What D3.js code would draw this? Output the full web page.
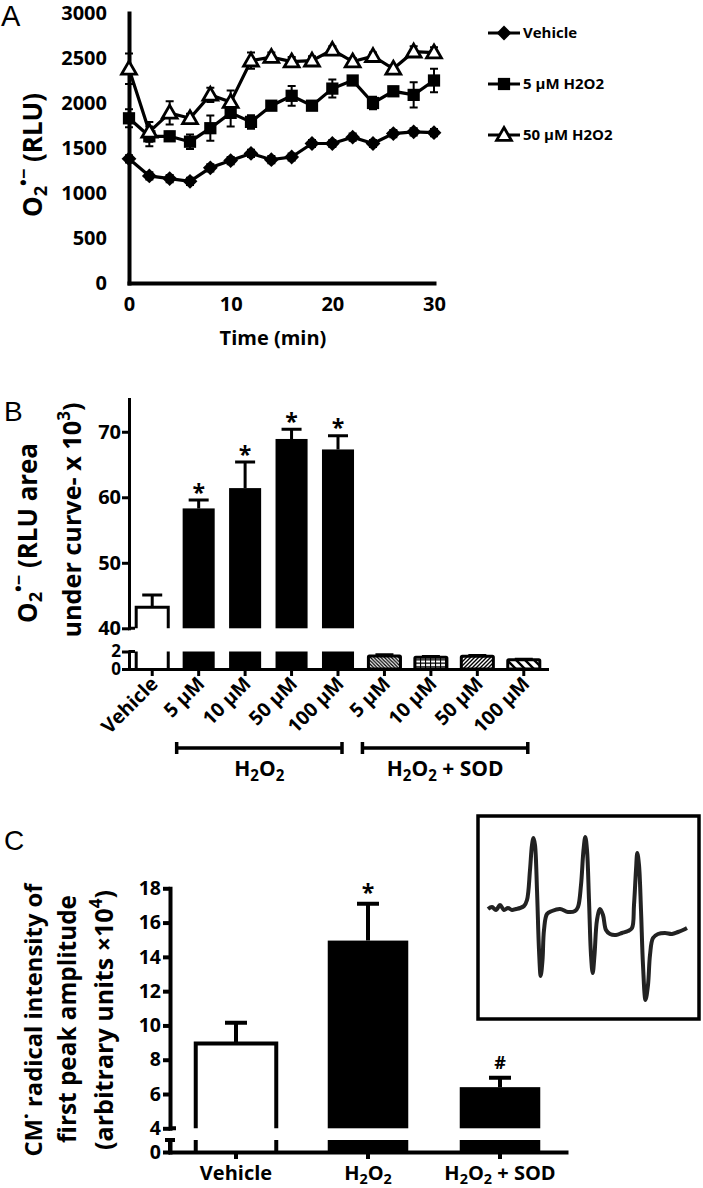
<!DOCTYPE html>
<html><head><meta charset="utf-8">
<script src="https://cdn.jsdelivr.net/npm/d3@7"></script>
<style>
html,body{margin:0;padding:0;background:#fff;}
svg{display:block;}
text{font-family:"Open Sans",sans-serif;font-weight:700;fill:#000;}
</style></head><body>
<svg id="c" width="703" height="1188"></svg>
<script>
// ---------- Panel A data ----------
const timeMin = [0,2,4,6,8,10,12,14,16,18,20,22,24,26,28,30];
const vehicleRLU = [1380,1190,1160,1130,1280,1360,1440,1370,1400,1550,1550,1620,1550,1660,1680,1670];
const vehicleSEM = [40,40,40,40,40,40,40,40,40,40,40,40,40,40,40,40];
const h2o2_5RLU = [1830,1630,1630,1570,1720,1890,1790,1970,2080,1970,2160,2250,2000,2130,2090,2250];
const h2o2_5SEM = [100,110,50,80,140,150,75,40,110,40,100,40,70,50,140,130];
const h2o2_50RLU = [2380,1680,1890,1830,2090,2010,2470,2510,2460,2470,2590,2460,2520,2380,2570,2560];
const h2o2_50SEM = [170,110,130,50,80,130,90,50,50,50,40,40,40,40,60,60];
const seriesA = ["Vehicle","5 µM H2O2","50 µM H2O2"];
const aYTicks = [0,500,1000,1500,2000,2500,3000];
const aXTicks = [0,10,20,30];

// ---------- Panel B data ----------
const bCategories = ["Vehicle","5 µM","10 µM","50 µM","100 µM","5 µM","10 µM","50 µM","100 µM"];
const bGroup = ["vehicle","h2o2","h2o2","h2o2","h2o2","sod","sod","sod","sod"];
const bAUC = [43.2,58.3,61.4,68.9,67.3,1.5,1.35,1.45,1.05];
const bSEM = [1.9,1.3,4.0,1.5,2.1,0.15,0.12,0.12,0.1];
const bSig = ["","*","*","*","*","","","",""];
const bUpperTicks = [40,50,60,70];
const bLowerTicks = [0,2];
const bBracketLabels = ["H2O2","H2O2 + SOD"];
const bBracketFrom = [1,5];
const bBracketTo = [4,8];

// ---------- Panel C data ----------
const cCategories = ["Vehicle","H2O2","H2O2 + SOD"];
const cAmplitude = [8.95,14.95,6.4];
const cSEM = [1.2,2.15,0.55];
const cSig = ["","*","#"];
const cUpperTicks = [4,6,8,10,12,14,16,18];
const cLowerTicks = [0];
// EPR spectrum inset (field, arbitrary units; signal, arbitrary units)
const eprField = [0,2,4,6,8,10,12,14,16,18,19.5,21,22,22.75,23.5,24.5,25.5,26.35,27.25,28,29.5,32,36,40,43.5,45,46.5,47.75,48.65,49.5,50.5,51.5,52.35,53.25,54.5,56,57.5,59,61,64,67,70,72,73,74,74.65,75.5,76.5,77.5,78.75,80,81,82.5,85,88.5,92,95,97.5,99.5];
const eprSignal = [1,3,0,5,0,2,0,1,2,4,10,40,65,72,65,20,-40,-66,-50,-20,-4,-1,1,-2,-1,3,25,60,73,60,10,-45,-63,-45,-10,1,-5,-20,-24,-25,-23,-21,-18,5,40,57,45,0,-55,-90,-75,-45,-28,-24,-23,-24,-22,-20,-18];

const svg = d3.select("#c");
svg.append("rect").attr("width",703).attr("height",1188).attr("fill","#fff");
const FONT = '"Open Sans",sans-serif';
const fmt = d3.format("d");

function styleAxis(g, sw, fs) {
  g.attr("font-family", null).attr("font-size", null);
  g.select(".domain").attr("stroke","#000").attr("stroke-width",sw).attr("stroke-linecap","square");
  g.selectAll(".tick line").attr("stroke","#000").attr("stroke-width",sw);
  g.selectAll(".tick text").attr("fill","#000").style("font-size",fs+"px")
    .style("font-family",FONT).style("font-weight","700");
}
// chemistry text: digits after H/O become subscripts
function chem(t, s, fs) {
  const parts = s.split(/(?<=[HO])(\d)/);
  const sh = fs*0.22;
  let down = false;
  parts.forEach((p,i)=>{
    if (p==="") return;
    const sp = t.append("tspan").text(p);
    if (i%2===1) { sp.attr("font-size", fs*0.72).attr("dy", sh); down = true; }
    else if (down) { sp.attr("dy", -sh); down = false; }
  });
}
// scale a text's font so that its length matches the reference span
function fitLen(t, target) {
  const w = t.node().getBBox().width;
  const fs = parseFloat(t.style("font-size"));
  if (w > 0) t.style("font-size", (fs*target/w).toFixed(2)+"px");
}
// O2 radical anion label parts (em based)
function superoxide(t, rest) {
  t.append("tspan").text("O");
  t.append("tspan").attr("font-size","0.7em").attr("dy","0.28em").text("2");
  t.append("tspan").attr("font-size","0.7em").attr("dy","-0.95em").text("•−");
  t.append("tspan").attr("dy","0.47em").text(rest);
}
function panelLetter(x,y,s,fs){
  svg.append("text").attr("x",x).attr("y",y).text(s)
    .style("font-family",'"Liberation Sans",Arial,sans-serif').style("font-weight","400").style("font-size",fs+"px");
}

// ================= PANEL A =================
panelLetter(1,26,"A",29);
const ax = d3.scaleLinear().domain([0,30]).range([129,434]);
const ay = d3.scaleLinear().domain([0,3000]).range([283,13]);
const gA = svg.append("g");
gA.append("g").attr("transform",`translate(${ax(0)},0)`)
  .call(d3.axisLeft(ay).tickValues(aYTicks).tickFormat(fmt).tickSize(0).tickSizeOuter(0).tickPadding(22))
  .call(g=>styleAxis(g,4,20));
gA.append("g").attr("transform",`translate(0,${ay(0)})`)
  .call(d3.axisBottom(ax).tickValues(aXTicks).tickFormat(fmt).tickSize(0).tickSizeOuter(0).tickPadding(14))
  .call(g=>styleAxis(g,4,20));
gA.append("text").attr("x",273).attr("y",345).attr("text-anchor","middle").style("font-size","20px").text("Time (min)");
{
  const t = gA.append("text").attr("transform","translate(42,155) rotate(-90)").attr("text-anchor","middle").style("font-size","26px");
  superoxide(t, " (RLU)");
  fitLen(t, 124);
}
const seriesVals = [vehicleRLU, h2o2_5RLU, h2o2_50RLU];
const seriesErr = [vehicleSEM, h2o2_5SEM, h2o2_50SEM];
const seriesSym = ["diamond","square","triangle"];
function marker(g, type, x, y) {
  if (type==="diamond") g.append("path").attr("d", d3.symbol(d3.symbolSquare, 110)()).attr("transform",`translate(${x},${y}) rotate(45)`).attr("fill","#000");
  else if (type==="square") g.append("path").attr("d", d3.symbol(d3.symbolSquare, 150)()).attr("transform",`translate(${x},${y})`).attr("fill","#000");
  else g.append("path").attr("d", d3.symbol(d3.symbolTriangle, 95)()).attr("transform",`translate(${x},${y+1})`).attr("fill","#fff").attr("stroke","#000").attr("stroke-width",2.8).attr("stroke-linejoin","miter");
}
const lineA = d3.line().x((d,i)=>ax(timeMin[i])).y(d=>ay(d));
seriesVals.forEach((vals,si)=>{
  const g = gA.append("g");
  g.append("path").attr("d",lineA(vals)).attr("fill","none").attr("stroke","#000").attr("stroke-width",3.2);
  vals.forEach((v,i)=>{
    const x = ax(timeMin[i]), e = seriesErr[si][i];
    g.append("path").attr("d",`M${x},${ay(v-e)}V${ay(v+e)}M${x-4},${ay(v+e)}H${x+4}M${x-4},${ay(v-e)}H${x+4}`)
      .attr("stroke","#000").attr("stroke-width",2).attr("fill","none");
  });
  vals.forEach((v,i)=> marker(g, seriesSym[si], ax(timeMin[i]), ay(v)));
});
const legY = [33,84,135];
seriesA.forEach((name,i)=>{
  const g = gA.append("g");
  g.append("line").attr("x1",488).attr("x2",520).attr("y1",legY[i]).attr("y2",legY[i]).attr("stroke","#000").attr("stroke-width",3);
  marker(g, seriesSym[i], 504, legY[i]);
  g.append("text").attr("x",523).attr("y",legY[i]).attr("dy","0.36em").style("font-size","15px").text(name);
});

// ================= PANEL B =================
panelLetter(4,421,"B",28);
const defs = svg.append("defs");
function pat(id, w, h, d, sw){
  const p = defs.append("pattern").attr("id",id).attr("patternUnits","userSpaceOnUse").attr("width",w).attr("height",h);
  p.append("rect").attr("width",w).attr("height",h).attr("fill","#fff");
  p.append("path").attr("d",d).attr("stroke","#000").attr("stroke-width",sw).attr("fill","none");
}
pat("pA",3.5,3.5,"M-1,-1L4.5,4.5M-1,2.5L1,4.5M2.5,-1L4.5,1",1.3);
pat("pB",5,3.5,"M0,1.7H5M0.5,0V3.5",1.2);
pat("pC",4,4,"M-1,5L5,-1M-1,1L1,-1M3,5L5,3",1.4);
pat("pD",9,9,"M-1,-1L10,10M-1,8L1,10M8,-1L10,1",2.4);
const bPatterns = [null,null,null,null,null,"url(#pA)","url(#pB)","url(#pC)","url(#pD)"];

const bx = d3.scaleBand().domain(d3.range(bCategories.length)).range([129,547]).paddingInner(0.31).paddingOuter(0.155);
const byU = d3.scaleLinear().domain([40,75]).range([628.3,399]);
const byL = d3.scaleLinear().domain([0,2]).range([669,651.5]);
const gB = svg.append("g");
const bw = bx.bandwidth();
bAUC.forEach((v,i)=>{
  const x0 = bx(i), x1 = x0+bw, xc = x0+bw/2;
  if (bGroup[i]==="vehicle") {
    gB.append("path").attr("d",`M${x0},${byU(40)}V${byU(v)}H${x1}V${byU(40)}`).attr("fill","#fff").attr("stroke","#000").attr("stroke-width",3);
    gB.append("path").attr("d",`M${x0},${byL(0)}V${byL(2)}M${x1},${byL(0)}V${byL(2)}`).attr("stroke","#000").attr("stroke-width",3);
  } else if (bGroup[i]==="h2o2") {
    gB.append("rect").attr("x",x0).attr("y",byU(v)).attr("width",bw).attr("height",byU(40)-byU(v)).attr("fill","#000");
    gB.append("rect").attr("x",x0).attr("y",byL(2)).attr("width",bw).attr("height",byL(0)-byL(2)).attr("fill","#000");
  } else {
    const e = bSEM[i];
    gB.append("path").attr("d",`M${xc},${byL(v)}V${byL(v+e)}M${xc-9},${byL(v+e)}H${xc+9}`).attr("stroke","#000").attr("stroke-width",2.5);
    gB.append("rect").attr("x",x0).attr("y",byL(v)).attr("width",bw).attr("height",byL(0)-byL(v)).attr("fill",bPatterns[i]).attr("stroke","#000").attr("stroke-width",3).attr("rx",1);
  }
  if (bGroup[i]!=="sod") {
    const e = bSEM[i];
    gB.append("path").attr("d",`M${xc},${byU(v)}V${byU(v+e)}M${xc-10},${byU(v+e)}H${xc+10}`).attr("stroke","#000").attr("stroke-width",3);
    if (bSig[i]) gB.append("text").attr("x",xc).attr("y",byU(v+e)-12).attr("dy","0.55em").attr("text-anchor","middle").style("font-size","23px").text(bSig[i]);
  }
});
gB.append("g").attr("transform",`translate(129,0)`)
  .call(d3.axisLeft(byU).tickValues(bUpperTicks).tickFormat(fmt).tickSize(7).tickSizeOuter(0).tickPadding(1))
  .call(g=>styleAxis(g,3,20));
gB.append("g").attr("transform",`translate(129,0)`)
  .call(d3.axisLeft(byL).tickValues(bLowerTicks).tickFormat(fmt).tickSize(7).tickSizeOuter(0).tickPadding(1))
  .call(g=>styleAxis(g,3,17))
  .call(g=>g.selectAll(".tick text").attr("dy","0.3em"));
gB.append("path").attr("d",`M129,${byU(40)}H135M129,${byL(2)}H135`).attr("stroke","#000").attr("stroke-width",3);
gB.append("g").attr("transform",`translate(0,${byL(0)})`)
  .call(d3.axisBottom(bx).tickSize(7).tickSizeOuter(0).tickFormat(""))
  .call(g=>styleAxis(g,3,18));
bCategories.forEach((c,i)=>{
  gB.append("text").attr("transform",`translate(${bx(i)+bw/2+7},${685}) rotate(-45)`).attr("text-anchor","end").style("font-size","19.5px").text(c);
});
bBracketLabels.forEach((lab,k)=>{
  const x1 = bx(bBracketFrom[k])+bw/2-22, x2 = bx(bBracketTo[k])+bw/2+4, y = 748;
  gB.append("path").attr("d",`M${x1},${y}H${x2}M${x1},${y-6}V${y+6}M${x2},${y-6}V${y+6}`).attr("stroke","#000").attr("stroke-width",3.5);
  const t = gB.append("text").attr("x",(x1+x2)/2).attr("y",776).attr("text-anchor","middle").style("font-size","21px");
  chem(t, lab, 21);
});
{
  const t = gB.append("text").attr("transform","translate(37,533) rotate(-90)").attr("text-anchor","middle").style("font-size","25px");
  superoxide(t, " (RLU area");
  fitLen(t, 180);
  const t2 = gB.append("text").attr("transform","translate(81,520) rotate(-90)").attr("text-anchor","middle").style("font-size","25px");
  t2.append("tspan").text("under curve- x 10");
  t2.append("tspan").attr("font-size","0.68em").attr("dy","-0.65em").text("3");
  t2.append("tspan").attr("dy","0.44em").text(")");
  fitLen(t2, 235);
}

// ================= PANEL C =================
panelLetter(4,850,"C",28);
const cx = d3.scaleBand().domain(d3.range(cCategories.length)).range([170,566]).paddingInner(0.39).paddingOuter(0.195);
const cyU = d3.scaleLinear().domain([4,18]).range([1128.3,888.3]);
const cyL = d3.scaleLinear().domain([0,0.7]).range([1152,1140]);
const gC = svg.append("g");
const cw = cx.bandwidth();
cAmplitude.forEach((v,i)=>{
  const x0 = cx(i), x1 = x0+cw, xc = x0+cw/2, e = cSEM[i];
  if (i===0) {
    gC.append("path").attr("d",`M${x0},${cyU(4)}V${cyU(v)}H${x1}V${cyU(4)}`).attr("fill","#fff").attr("stroke","#000").attr("stroke-width",4);
    gC.append("path").attr("d",`M${x0},${cyL(0)}V${cyL(0.7)}M${x1},${cyL(0)}V${cyL(0.7)}`).attr("stroke","#000").attr("stroke-width",4);
  } else {
    gC.append("rect").attr("x",x0).attr("y",cyU(v)).attr("width",cw).attr("height",cyU(4)-cyU(v)).attr("fill","#000");
    gC.append("rect").attr("x",x0).attr("y",cyL(0.7)).attr("width",cw).attr("height",cyL(0)-cyL(0.7)).attr("fill","#000");
  }
  gC.append("path").attr("d",`M${xc},${cyU(v)}V${cyU(v+e)}M${xc-11},${cyU(v+e)}H${xc+11}`).attr("stroke","#000").attr("stroke-width",4);
  if (cSig[i]) gC.append("text").attr("x",xc).attr("y",cyU(v+e)-15).attr("dy", cSig[i]==="*"?"0.55em":"0.35em").attr("text-anchor","middle").style("font-size",cSig[i]==="*"?"23px":"18px").text(cSig[i]);
});
gC.append("g").attr("transform",`translate(170,0)`)
  .call(d3.axisLeft(cyU).tickValues(cUpperTicks).tickFormat(fmt).tickSize(7).tickSizeOuter(0).tickPadding(2))
  .call(g=>styleAxis(g,4,19.5));
gC.append("g").attr("transform",`translate(170,0)`)
  .call(d3.axisLeft(cyL).tickValues(cLowerTicks).tickFormat(fmt).tickSize(7).tickSizeOuter(0).tickPadding(2))
  .call(g=>styleAxis(g,4,19.5));
gC.append("path").attr("d",`M170,${cyL(0)}V${cyL(0.7)}M165,${cyL(0.7)}H175M170,${cyU(4)}H176`).attr("stroke","#000").attr("stroke-width",4);
gC.append("g").attr("transform",`translate(0,${cyL(0)})`)
  .call(d3.axisBottom(cx).tickSize(7).tickSizeOuter(0).tickFormat(""))
  .call(g=>styleAxis(g,4,20));
cCategories.forEach((c,i)=>{
  const t = gC.append("text").attr("x",cx(i)+cw/2).attr("y",1180).attr("text-anchor","middle").style("font-size","20px");
  chem(t, c, 20);
});
{
  const t1 = gC.append("text").attr("transform","translate(42,1020) rotate(-90)").attr("text-anchor","middle").style("font-size","24px");
  t1.append("tspan").text("CM");
  t1.append("tspan").text("˙ radical intensity of");
  fitLen(t1, 275);
  const t2 = gC.append("text").attr("transform","translate(76,1019) rotate(-90)").attr("text-anchor","middle").style("font-size","24px").text("first peak amplitude");
  fitLen(t2, 248);
  const t3 = gC.append("text").attr("transform","translate(113,1020) rotate(-90)").attr("text-anchor","middle").style("font-size","24px");
  t3.append("tspan").text("(arbitrary units ×10");
  t3.append("tspan").attr("font-size","0.68em").attr("dy","-0.65em").text("4");
  t3.append("tspan").attr("dy","0.44em").text(")");
  fitLen(t3, 260);
}
// inset EPR spectrum
gC.append("rect").attr("x",478).attr("y",816).attr("width",221).attr("height",203).attr("fill","#fff").attr("stroke","#000").attr("stroke-width",3.5);
const ex = d3.scaleLinear().domain([0,100]).range([488,688]);
const ey = d3.scaleLinear().domain([-100,100]).range([1010,810]);
gC.append("path").datum(eprSignal)
  .attr("d", d3.line().x((d,i)=>ex(eprField[i])).y(d=>ey(d)).curve(d3.curveCatmullRom.alpha(0.5)))
  .attr("fill","none").attr("stroke","#222").attr("stroke-width",4).attr("stroke-linejoin","round");
</script>
</body></html>
